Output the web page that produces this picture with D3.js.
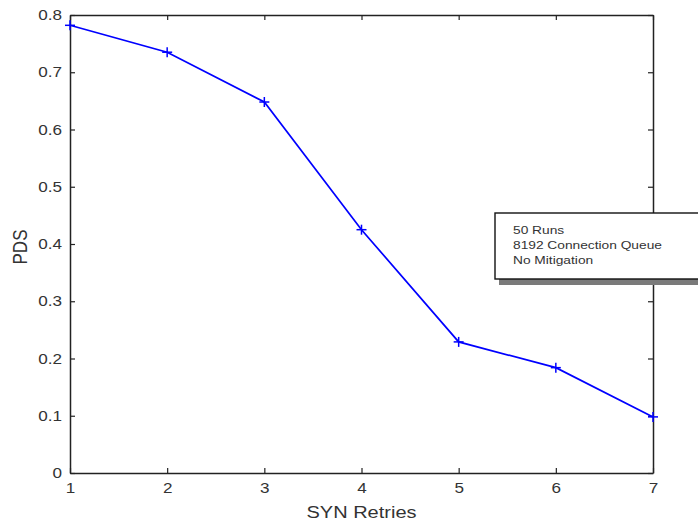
<!DOCTYPE html>
<html>
<head>
<meta charset="utf-8">
<script src="https://cdn.jsdelivr.net/npm/d3@7"></script>
<style>
  html, body { margin: 0; padding: 0; background: #fff; }
  svg { display: block; }
  text { font-family: "Liberation Sans", Arial, sans-serif; fill: #333; }
</style>
</head>
<body>
<svg id="chart" width="698" height="527"></svg>
<script>
const synRetries = [1, 2, 3, 4, 5, 6, 7];
const pdsValues = [0.782, 0.735, 0.648, 0.425, 0.229, 0.184, 0.098];
const xTicks = [1, 2, 3, 4, 5, 6, 7];
const yTicks = [0, 0.1, 0.2, 0.3, 0.4, 0.5, 0.6, 0.7, 0.8];
const legendLines = ["50 Runs", "8192 Connection Queue", "No Mitigation"];

const svg = d3.select("#chart");
const m = { left: 70, right: 45, top: 15, bottom: 54 };
const W = 698, H = 527;
const SX = 1.18; // horizontal stretch of the original's lettering
const x = d3.scaleLinear().domain([1, 7]).range([m.left, W - m.right]);
const y = d3.scaleLinear().domain([0, 0.8]).range([H - m.bottom, m.top]);

const axisColor = "#222";
const gB = svg.append("g").attr("transform", `translate(0,${y(0)})`)
  .call(d3.axisBottom(x).tickValues(xTicks).tickFormat(d3.format("d")).tickSizeInner(-5).tickSizeOuter(0).tickPadding(10));
const gT = svg.append("g").attr("transform", `translate(0,${y(0.8)})`)
  .call(d3.axisTop(x).tickValues(xTicks).tickFormat("").tickSizeInner(-5).tickSizeOuter(0));
const gL = svg.append("g").attr("transform", `translate(${x(1)},0)`)
  .call(d3.axisLeft(y).tickValues(yTicks).tickFormat(d => d === 0 ? "0" : d3.format(".1f")(d)).tickSizeInner(-5).tickSizeOuter(0).tickPadding(8));
const gR = svg.append("g").attr("transform", `translate(${x(7)},0)`)
  .call(d3.axisRight(y).tickValues(yTicks).tickFormat("").tickSizeInner(-5).tickSizeOuter(0));

[gB, gT, gL, gR].forEach(g => {
  g.select(".domain").attr("stroke", axisColor).attr("stroke-width", 1.5);
  g.selectAll(".tick line").attr("stroke", axisColor).attr("stroke-width", 1.2);
  g.selectAll(".tick text").attr("font-size", 14.5).attr("fill", "#333")
    .attr("font-family", "'Liberation Sans', Arial, sans-serif");
});
gL.selectAll(".tick text").attr("x", -8 / SX).attr("transform", `scale(${SX},1)`);
gB.selectAll(".tick text").attr("transform", `scale(${SX},1)`);

// line
const line = d3.line().x((d, i) => x(synRetries[i])).y(d => y(d));
svg.append("path").datum(pdsValues)
  .attr("d", line).attr("fill", "none").attr("stroke", "#0000ff").attr("stroke-width", 1.7);

// plus markers
const s = 5;
const mk = svg.append("g").selectAll("g").data(pdsValues).join("g")
  .attr("transform", (d, i) => `translate(${x(synRetries[i])},${y(d)})`);
mk.append("line").attr("x1", -s).attr("x2", s).attr("y1", 0).attr("y2", 0).attr("stroke", "#0000ff").attr("stroke-width", 1.5);
mk.append("line").attr("x1", 0).attr("x2", 0).attr("y1", -s).attr("y2", s).attr("stroke", "#0000ff").attr("stroke-width", 1.5);

// axis labels
svg.append("text").attr("transform", `translate(${(x(1) + x(7)) / 2},518) scale(${SX + 0.07},1)`)
  .attr("text-anchor", "middle").attr("font-size", 16).text("SYN Retries");
svg.append("text").attr("transform", `translate(27,${(y(0) + y(0.8)) / 2 + 3}) scale(${SX},1) rotate(-90)`)
  .attr("text-anchor", "middle").attr("font-size", 17).text("PDS");

// annotation box with shadow
const bx = 495, by = 213, bw = 220, bh = 66;
svg.append("rect").attr("x", bx + 4).attr("y", by + 6).attr("width", bw).attr("height", bh).attr("fill", "#7a7a7a");
svg.append("rect").attr("x", bx).attr("y", by).attr("width", bw).attr("height", bh)
  .attr("fill", "#fff").attr("stroke", "#111").attr("stroke-width", 1.4);
svg.append("g").selectAll("text").data(legendLines).join("text")
  .attr("transform", (d, i) => `translate(${bx + 18},${by + 21 + i * 15}) scale(1.25,1)`)
  .attr("font-size", 11).attr("fill", "#111").text(d => d);
</script>
</body>
</html>
